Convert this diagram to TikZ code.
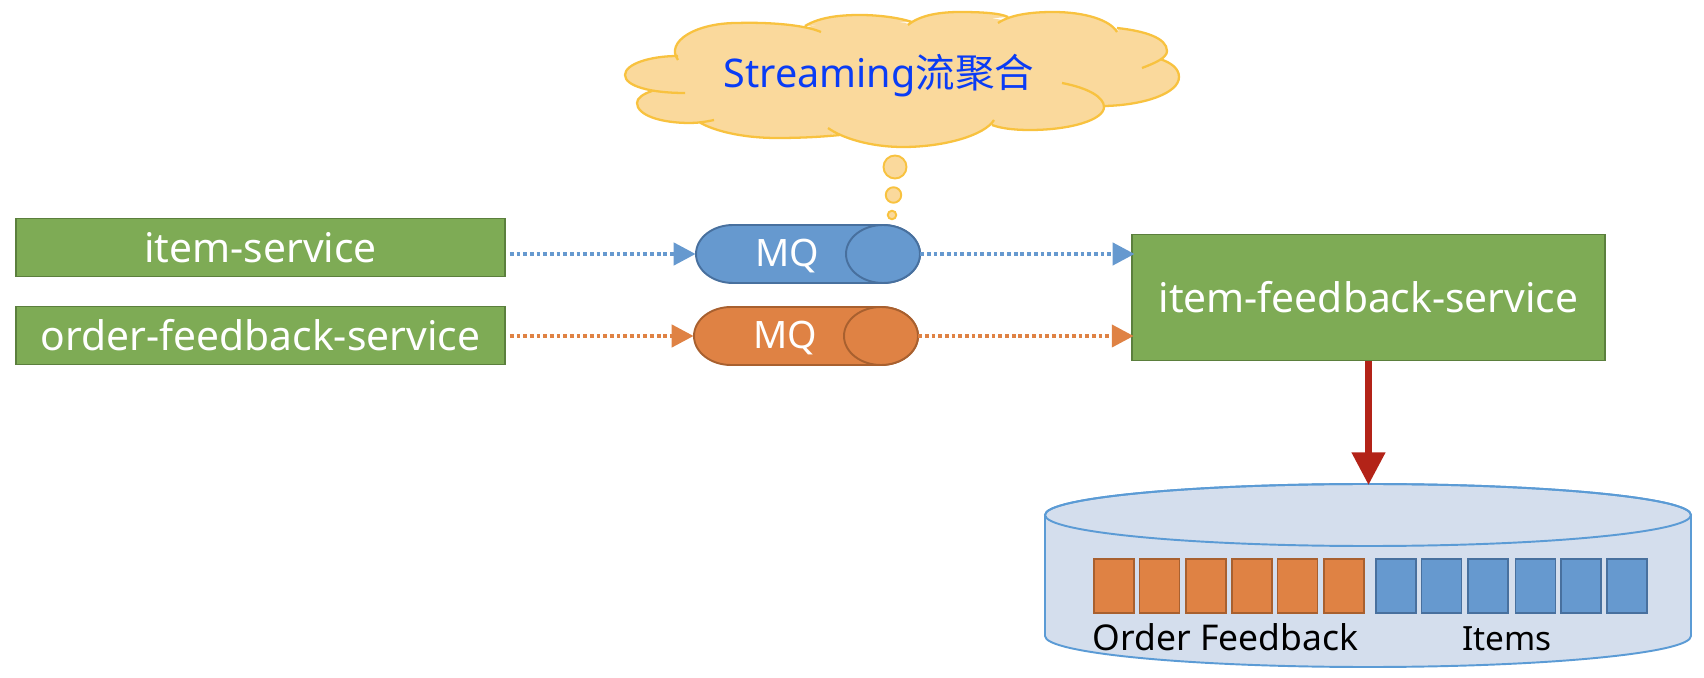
\documentclass[tikz,border=0pt]{standalone}
\usepackage{fontspec}
\usepackage{xcolor}
\setmainfont{Noto Sans}
\newfontfamily\cjk{Noto Sans CJK SC}
\usetikzlibrary{arrows.meta,positioning,calc}
\definecolor{boxgreen}{HTML}{7EAB55}
\definecolor{boxline}{HTML}{5B7F3D}
\definecolor{mqblue}{HTML}{6699CF}
\definecolor{mqblueline}{HTML}{48709E}
\definecolor{mqorange}{HTML}{DF8244}
\definecolor{mqorangeline}{HTML}{A8602F}
\definecolor{cloudfill}{HTML}{FAD99C}
\definecolor{cloudline}{HTML}{F8C23F}
\definecolor{cloudtext}{HTML}{0A3CF5}
\definecolor{dbfill}{HTML}{D4DEED}
\definecolor{dbline}{HTML}{5B9BD5}
\definecolor{redarrow}{HTML}{B32318}
\begin{document}
\begin{tikzpicture}[
    x=0.02cm, y=-0.02cm,
    svc/.style={rectangle, draw=boxline, fill=boxgreen, line width=1.1pt, text=white, font=\fontsize{23.2}{28}\selectfont},
    mqtext/.style={text=white, font=\fontsize{21.5}{26}\selectfont},
    mqbox/.style={rectangle, minimum width=4.48cm, minimum height=1.16cm, inner sep=0pt},
    bluepipe/.style={draw=mqblueline, fill=mqblue, line width=1.1pt},
    orangepipe/.style={draw=mqorangeline, fill=mqorange, line width=1.1pt},
    bluedot/.style={draw=mqblue, line width=2.5pt, dash pattern=on 2.1pt off 1.7pt, -{Triangle[length=12.5pt,width=12.5pt,fill=mqblue]}},
    orangedot/.style={draw=mqorange, line width=2.5pt, dash pattern=on 2.1pt off 1.7pt, -{Triangle[length=12.5pt,width=12.5pt,fill=mqorange]}},
    cell/.style={rectangle, minimum width=0.8cm, minimum height=1.08cm, inner sep=0pt, line width=1.1pt},
    orangecell/.style={cell, draw=mqorangeline, fill=mqorange},
    bluecell/.style={cell, draw=mqblueline, fill=mqblue},
    bubble/.style={circle, draw=cloudline, fill=cloudfill, line width=1.1pt, inner sep=0pt},
    dbtext/.style={text=black, inner sep=0pt, anchor=base}
  ]
    \useasboundingbox (0,0) rectangle (1704,678);

    % thought cloud
    \fill[cloudfill] (678,58) -- (737,23) -- (808,27) -- (860,15) -- (910,24) -- (960,12) -- (1002,20) -- (1053,12)
      -- (1117,30) -- (1167,51) -- (1160,59) -- (1179,77) -- (1104,107) -- (1030,130) -- (992,124) -- (903,147)
      -- (836,134) -- (777,138) -- (703,122) -- (637,103) -- (652,91) -- (625,75) -- cycle;
    \path[draw=cloudline, line width=1.3pt, preaction={fill=cloudfill}]
      (678,60) .. controls (665,42) and (695,23) .. (737,23) .. controls (770,22) and (805,25) .. (821,32)
      (805,26) .. controls (820,17) and (840,15) .. (860,15) .. controls (880,15) and (900,18) .. (912,22)
      (908,25) .. controls (920,15) and (940,12) .. (960,12) .. controls (980,12) and (1000,13) .. (1008,17)
      (998,23) .. controls (1010,15) and (1030,12) .. (1053,12) .. controls (1085,12) and (1110,20) .. (1117,32)
      (1117,28) .. controls (1145,31) and (1167,38) .. (1167,51) .. controls (1167,58) and (1155,63) .. (1142,68)
      (1160,59) .. controls (1172,63) and (1179,69) .. (1179,77) .. controls (1179,93) and (1145,105) .. (1105,106)
      (1062,83) .. controls (1088,88) and (1104,97) .. (1104,107) .. controls (1104,120) and (1070,130) .. (1030,130) .. controls (1012,130) and (1000,128) .. (992,125)
      (994,120) .. controls (985,135) and (945,147) .. (903,147) .. controls (870,147) and (842,138) .. (828,128)
      (840,135) .. controls (820,137) and (800,138) .. (777,138) .. controls (740,138) and (712,130) .. (699,122)
      (714,120) .. controls (705,122) and (697,123) .. (690,123) .. controls (660,123) and (637,115) .. (637,103) .. controls (637,98) and (643,94) .. (652,91)
      (685,93) .. controls (650,93) and (625,86) .. (625,75) .. controls (625,64) and (650,56) .. (678,56);
    \node[text=cloudtext, font=\fontsize{22.5}{27}\selectfont, inner sep=0pt, anchor=base] (cloudlabel) at (879,88) {Streaming{\cjk 流聚合}};
    \node[bubble, minimum size=0.46cm] (bubblea) at (895,167) {};
    \node[bubble, minimum size=0.31cm] (bubbleb) at (893.5,195) {};
    \node[bubble, minimum size=0.17cm] (bubblec) at (892,215) {};

    % services
    \node[svc, minimum width=9.8cm, minimum height=1.16cm] (itemsvc) at (260.5,247.5) {item-service};
    \node[svc, minimum width=9.8cm, minimum height=1.16cm] (ordersvc) at (260.5,335.5) {order-feedback-service};
    \node[svc, minimum width=9.46cm, minimum height=2.52cm] (fbsvc) at (1368.5,297.5) {item-feedback-service};

    % queues
    \node[mqbox] (mqa) at (808,254) {};
    \path[bluepipe] (733,225) -- (883,225) arc[start angle=-90, end angle=90, x radius=37, y radius=29]
      -- (733,283) arc[start angle=90, end angle=270, x radius=37, y radius=29] -- cycle;
    \draw[bluepipe] (883,254) ellipse[x radius=37, y radius=29];
    \node[mqtext] (mqalabel) at (787,256) {MQ};
    \node[mqbox] (mqb) at (806,336) {};
    \path[orangepipe] (731,307) -- (881,307) arc[start angle=-90, end angle=90, x radius=37, y radius=29]
      -- (731,365) arc[start angle=90, end angle=270, x radius=37, y radius=29] -- cycle;
    \draw[orangepipe] (881,336) ellipse[x radius=37, y radius=29];
    \node[mqtext] (mqblabel) at (785,338.5) {MQ};

    % flows
    \draw[bluedot, shorten <=2pt] (itemsvc.east |- mqa.west) -- (mqa.west);
    \draw[orangedot, shorten <=2pt] (ordersvc.east |- mqb.west) -- (mqb.west);
    \draw[bluedot, shorten >=-2pt] (mqa.east) -- (mqa.east -| fbsvc.west);
    \draw[orangedot, shorten >=-1.5pt] (mqb.east) -- (mqb.east -| fbsvc.west);

    % database
    \coordinate (dbtop) at (1368.5,485);
    \path[draw=dbline, fill=dbfill, line width=1.1pt] (1045,515) -- (1045,636)
      arc[start angle=180, end angle=0, x radius=323, y radius=31] -- (1691,515)
      arc[start angle=0, end angle=-180, x radius=323, y radius=31] -- cycle;
    \draw[dbline, line width=1.1pt] (1368,515) ellipse[x radius=323, y radius=31];
    \draw[redarrow, line width=3.8pt, -{Triangle[length=18.6pt,width=18.4pt,fill=redarrow]}] (fbsvc.south) -- (dbtop);

    \foreach \i/\x in {1/1114,2/1159.5,3/1206,4/1252,5/1297.5,6/1344}
      \node[orangecell] (ofb\i) at (\x,586) {};
    \foreach \i/\x in {1/1396,2/1441.5,3/1488,4/1535.5,5/1581,6/1627}
      \node[bluecell] (itm\i) at (\x,586) {};
    \node[dbtext, font=\fontsize{20.2}{24}\selectfont] (ofblabel) at (1225.5,650) {Order Feedback};
    \node[dbtext, font=\fontsize{19}{23}\selectfont] (itmlabel) at (1507,650) {Items};
  \end{tikzpicture}
\end{document}
